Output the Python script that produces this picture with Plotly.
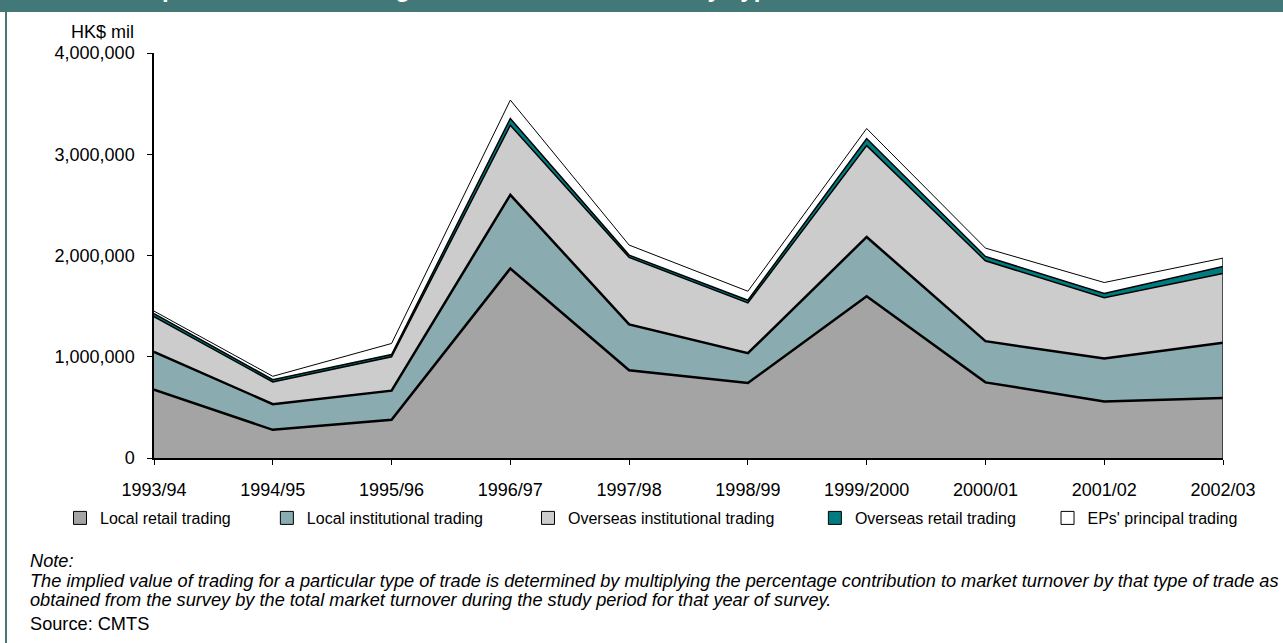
import plotly.graph_objects as go

# ---------------- data (HK$ mil) ----------------
periods = ["1993/94", "1994/95", "1995/96", "1996/97", "1997/98",
           "1998/99", "1999/2000", "2000/01", "2001/02", "2002/03"]
local_retail = [675000, 278000, 377000, 1872000, 866000, 740000, 1597000, 747000, 559000, 592000]
local_institutional = [374000, 254000, 288000, 727000, 453000, 295000, 586000, 407000, 423000, 546000]
overseas_institutional = [347000, 219000, 334000, 688000, 662000, 497000, 902000, 794000, 602000, 684000]
overseas_retail = [29000, 23000, 23000, 66000, 23000, 26000, 70000, 43000, 40000, 70000]
eps_principal = [26000, 33000, 109000, 182000, 99000, 89000, 99000, 82000, 109000, 82000]
series_names = ["Local retail trading", "Local institutional trading",
                "Overseas institutional trading", "Overseas retail trading",
                "EPs' principal trading"]
y_tick_values = [0, 1000000, 2000000, 3000000, 4000000]
y_tick_labels = ["0", "1,000,000", "2,000,000", "3,000,000", "4,000,000"]

title_text = "Implied Value of Trading in the Securities Market by Type of Trade"
unit_text = "HK$ mil"
note_head = "Note:"
note_line1 = ("The implied value of trading for a particular type of trade is determined by multiplying "
              "the percentage contribution to market turnover by that type of trade as")
note_line2 = ("obtained from the survey by the total market turnover during the study period "
              "for that year of survey.")
source_text = "Source: CMTS"

# ---------------- styles / layout ----------------
W, H = 1283, 643
ML, MR, MT, MB = 154, 60, 53, 185
PW, PH = W - ML - MR, H - MT - MB
FONT = "Arial, Liberation Sans, sans-serif"
TEAL_BAR = "#427878"

fills = ["#a4a4a4", "#8aacb0", "#cccccc", "#007b80", "#ffffff"]
line_widths = [2.5, 2.5, 1.5, 1.5, 1.0]
legend_pad = [7, 9, 8, 6, 0]


def px_x(p):
    return (p - ML) / PW


def px_y(p):
    return (H - MB - p) / PH


series = [local_retail, local_institutional, overseas_institutional, overseas_retail, eps_principal]

fig = go.Figure()
for vals, name, fc, lw in zip(series, series_names, fills, line_widths):
    fig.add_trace(go.Scatter(
        x=periods, y=vals, name=name, stackgroup="one", mode="lines",
        line=dict(color="black", width=lw), fillcolor=fc, showlegend=False,
    ))

# closing edge of the stacked area at the last period
totals = [sum(v) for v in zip(*series)]
fig.add_trace(go.Scatter(
    x=[periods[-1], periods[-1]], y=[0, totals[-1]], mode="lines",
    line=dict(color="#222222", width=1.5), showlegend=False, hoverinfo="skip",
))

# legend proxies (square keys)
for name, fc, pad in zip(series_names, fills, legend_pad):
    fig.add_trace(go.Scatter(
        x=[None], y=[None], mode="markers", name=name + "\u00a0" * pad,
        marker=dict(symbol="square", size=13, color=fc, line=dict(color="black", width=1)),
    ))

NOTE_X = 28
NOTE_SIZE = 18.2
annotations = [
    dict(text="<b>" + title_text + "</b>", xref="paper", yref="paper",
         x=px_x(132), y=px_y(4), xanchor="left", yanchor="bottom", showarrow=False,
         font=dict(size=24, color="white", family=FONT)),
    dict(text=unit_text, xref="paper", yref="paper", x=px_x(136), y=px_y(32),
         xanchor="right", yanchor="middle", showarrow=False, font=dict(size=18)),
    dict(text="<i>" + note_head + "</i>", xref="paper", yref="paper", x=px_x(NOTE_X), y=px_y(561),
         xanchor="left", yanchor="middle", showarrow=False, font=dict(size=NOTE_SIZE)),
    dict(text="<i>" + note_line1 + "</i>", xref="paper", yref="paper", x=px_x(NOTE_X), y=px_y(581),
         xanchor="left", yanchor="middle", showarrow=False, font=dict(size=NOTE_SIZE)),
    dict(text="<i>" + note_line2 + "</i>", xref="paper", yref="paper", x=px_x(NOTE_X), y=px_y(600),
         xanchor="left", yanchor="middle", showarrow=False, font=dict(size=NOTE_SIZE)),
    dict(text=source_text, xref="paper", yref="paper", x=px_x(NOTE_X), y=px_y(624),
         xanchor="left", yanchor="middle", showarrow=False, font=dict(size=NOTE_SIZE)),
]

fig.update_layout(
    width=W, height=H,
    margin=dict(l=ML, r=MR, t=MT, b=MB),
    paper_bgcolor="white", plot_bgcolor="white",
    font=dict(family=FONT, color="black", size=16),
    showlegend=True,
    legend=dict(orientation="h", x=px_x(60), xanchor="left", y=px_y(518), yanchor="middle",
                font=dict(size=16, family=FONT), itemwidth=30, bgcolor="rgba(0,0,0,0)",
                traceorder="normal"),
    xaxis=dict(type="category", range=[0, len(periods) - 1], showgrid=False,
               showline=True, linecolor="black", linewidth=1.5,
               ticks="outside", ticklen=5, tickcolor="black", tickwidth=1,
               tickfont=dict(size=18, family=FONT), ticklabelstandoff=10),
    yaxis=dict(range=[0, 4000000], showgrid=False, zeroline=False,
               showline=True, linecolor="black", linewidth=1.5,
               ticks="outside", ticklen=5, tickcolor="black", tickwidth=1,
               tickvals=y_tick_values, ticktext=y_tick_labels,
               tickfont=dict(size=18, family=FONT), ticklabelstandoff=9),
    shapes=[
        dict(type="rect", xref="paper", yref="paper", x0=px_x(-20), x1=px_x(W + 20),
             y0=px_y(12), y1=px_y(-20), fillcolor=TEAL_BAR, line=dict(width=0), layer="below"),
        dict(type="line", xref="paper", yref="paper", x0=px_x(6), x1=px_x(6),
             y0=px_y(12), y1=px_y(H + 20), line=dict(color=TEAL_BAR, width=2)),
    ],
    annotations=annotations,
)

fig.write_html("out.html", config={"displayModeBar": False},
               post_script="document.body.style.margin='0px';")
